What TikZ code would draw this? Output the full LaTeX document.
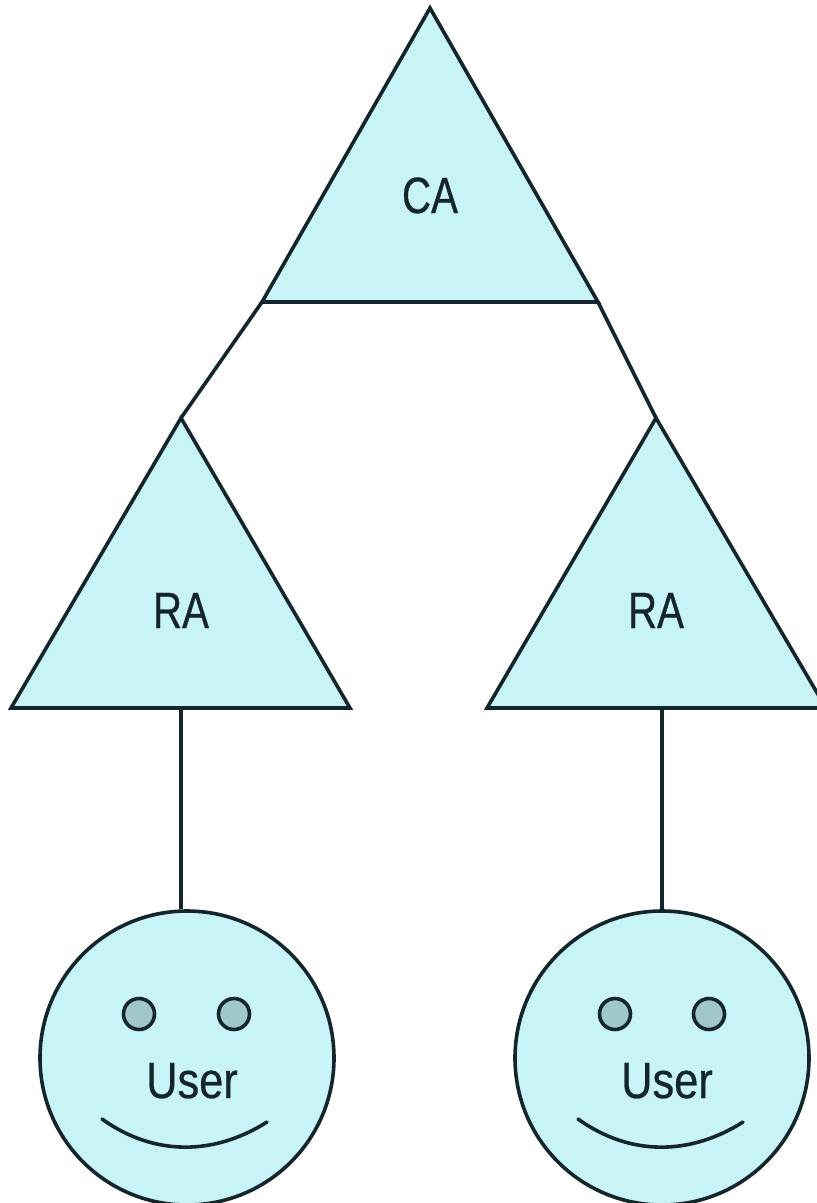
\documentclass[tikz,border=0pt]{standalone}
\usepackage{fontspec}
\setmainfont[FakeStretch=0.79,FakeBold=0.5]{Liberation Sans}
\newfontfamily\userfont[FakeStretch=0.85,FakeBold=0.5]{Liberation Sans}
\definecolor{lightcyan}{HTML}{C8F4F8}
\definecolor{eyegrey}{HTML}{A0C8CC}
\definecolor{inkline}{HTML}{14262C}
\tikzset{
  tri/.style={draw=inkline,fill=lightcyan,line width=3.6pt,line join=miter},
  wire/.style={draw=inkline,line width=3.6pt},
  face/.style={circle,draw=inkline,fill=lightcyan,line width=3.6pt,minimum size=294pt,inner sep=0pt},
  eye/.style={circle,draw=inkline,fill=eyegrey,line width=3.6pt,minimum size=31pt,inner sep=0pt},
  lbl/.style={text=inkline,font=\fontsize{51}{51}\selectfont,inner sep=0pt,anchor=base},
  ulbl/.style={text=inkline,font=\fontsize{51}{51}\userfont,inner sep=0pt,anchor=base}
}
\begin{document}
\begin{tikzpicture}[x=1pt,y=-1pt]
\useasboundingbox (0,0) rectangle (817,1203);
\coordinate (caT) at (430,8);
\coordinate (caL) at (262,302);
\coordinate (caR) at (598,302);
\coordinate (raaT) at (181,418);
\coordinate (raaL) at (11,708);
\coordinate (raaR) at (350,708);
\coordinate (raaB) at (181,708);
\coordinate (rabT) at (656,418);
\coordinate (rabL) at (487,708);
\coordinate (rabR) at (826,708);
\coordinate (rabB) at (662,708);
\draw[wire] (caL) -- (raaT);
\draw[wire] (caR) -- (rabT);
\begin{scope}
\clip (0,0) rectangle (817,1203);
\path[tri] (caT) -- (caL) -- (caR) -- cycle;
\path[tri] (raaT) -- (raaL) -- (raaR) -- cycle;
\path[tri] (rabT) -- (rabL) -- (rabR) -- cycle;
\node[face] (ua) at (187,1058) {};
\node[face] (ub) at (662,1058) {};
\end{scope}
\draw[wire] (raaB) -- (raaB |- ua.north);
\draw[wire] (rabB) -- (ub.north);
\node[lbl] (ca) at (430,213) {CA};
\node[lbl] (raa) at (181,628) {RA};
\node[lbl] (rab) at (656,628) {RA};
\node[eye] (ela) at (139,1014) {};
\node[eye] (era) at (234,1014) {};
\node[eye] (elb) at (615,1014) {};
\node[eye] (erb) at (709,1014) {};
\node[ulbl] (tua) at (192,1098) {User};
\node[ulbl] (tub) at (667,1098) {User};
\draw[wire,line cap=round] (102,1119) .. controls (155,1157) and (215,1155) .. (267,1122);
\draw[wire,line cap=round] (578,1119) .. controls (631,1157) and (691,1155) .. (743,1122);
\end{tikzpicture}
\end{document}
